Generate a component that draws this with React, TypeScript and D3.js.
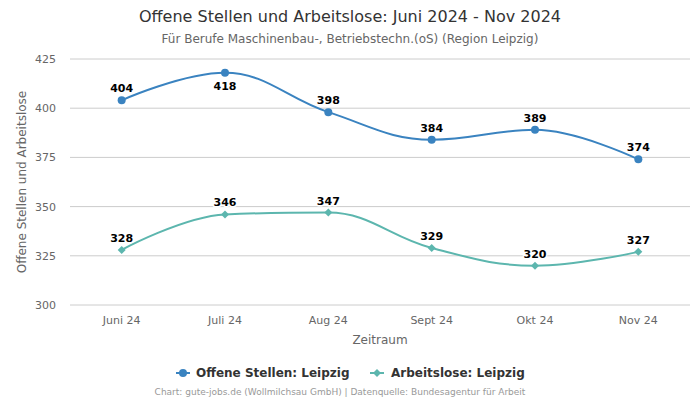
import React from "react";
import * as d3 from "d3";

const categories = ["Juni 24", "Juli 24", "Aug 24", "Sept 24", "Okt 24", "Nov 24"];
const offeneStellen = [404, 418, 398, 384, 389, 374];
const arbeitslose = [328, 346, 347, 329, 320, 327];
const yTicks = [300, 325, 350, 375, 400, 425];
// label placement: true = below point
const offeneBelow = [false, true, false, false, false, false];
const arbeitsBelow = [false, false, false, false, false, false];

const W = 700, H = 400;
const left = 70, right = 690, top = 59, bottom = 305;
const BLUE = "#3a83c0";
const TEAL = "#5cb6ae";
const FONT = "DejaVu Sans, sans-serif";

function splinePath(pts: [number, number][]) {
  const s = 1.5, den = s + 1;
  const conts = pts.map((p, i) => {
    const [x, y] = p;
    if (i === 0 || i === pts.length - 1) return { lx: x, ly: y, rx: x, ry: y };
    const [lx0, ly0] = pts[i - 1];
    const [nx, ny] = pts[i + 1];
    const lcx = (s * x + lx0) / den;
    let lcy = (s * y + ly0) / den;
    const rcx = (s * x + nx) / den;
    let rcy = (s * y + ny) / den;
    if (rcx !== lcx) {
      const corr = ((rcy - lcy) * (rcx - x)) / (rcx - lcx) + y - rcy;
      lcy += corr;
      rcy += corr;
    }
    if (lcy > ly0 && lcy > y) { lcy = Math.max(ly0, y); rcy = 2 * y - lcy; }
    else if (lcy < ly0 && lcy < y) { lcy = Math.min(ly0, y); rcy = 2 * y - lcy; }
    if (rcy > ny && rcy > y) { rcy = Math.max(ny, y); lcy = 2 * y - rcy; }
    else if (rcy < ny && rcy < y) { rcy = Math.min(ny, y); lcy = 2 * y - rcy; }
    return { lx: lcx, ly: lcy, rx: rcx, ry: rcy };
  });
  let d = `M${pts[0][0]},${pts[0][1]}`;
  for (let i = 1; i < pts.length; i++) {
    const a = conts[i - 1], b = conts[i];
    d += `C${a.rx},${a.ry} ${b.lx},${b.ly} ${pts[i][0]},${pts[i][1]}`;
  }
  return d;
}

export default function App() {
  const x = d3.scaleBand<string>().domain(categories).range([left, right]);
  const y = d3.scaleLinear().domain([300, 425]).range([bottom, top]);
  const cx = (c: string) => (x(c) as number) + x.bandwidth() / 2;

  const series = [
    { name: "Offene Stellen: Leipzig", data: offeneStellen, color: BLUE, marker: "circle", below: offeneBelow },
    { name: "Arbeitslose: Leipzig", data: arbeitslose, color: TEAL, marker: "diamond", below: arbeitsBelow },
  ];

  const marker = (type: string, px: number, py: number, color: string, key: any) =>
    type === "circle" ? (
      <circle key={key} cx={px} cy={py} r={4} fill={color} />
    ) : (
      <path key={key} d={`M${px},${py - 4}L${px + 4},${py}L${px},${py + 4}L${px - 4},${py}Z`} fill={color} />
    );

  return (
    <svg width={W} height={H} style={{ position: "absolute", left: 0, top: 0, fontFamily: FONT }}>
      <rect width={W} height={H} fill="#fff" />
      <text x={350} y={22} textAnchor="middle" fontSize={16} fill="#333">
        Offene Stellen und Arbeitslose: Juni 2024 - Nov 2024
      </text>
      <text x={350} y={43} textAnchor="middle" fontSize={12} fill="#666">
        Für Berufe Maschinenbau-, Betriebstechn.(oS) (Region Leipzig)
      </text>
      {yTicks.map((t) => (
        <g key={t}>
          <line x1={left} x2={right} y1={y(t)} y2={y(t)} stroke="#ccc" strokeWidth={1} />
          <text x={56} y={y(t) + 4} textAnchor="end" fontSize={11} fill="#666">{t}</text>
        </g>
      ))}
      {categories.map((c) => (
        <text key={c} x={cx(c)} y={324} textAnchor="middle" fontSize={11} fill="#666">{c}</text>
      ))}
      <text transform={`translate(26,${(top + bottom) / 2}) rotate(-90)`} textAnchor="middle" fontSize={12} fill="#666">
        Offene Stellen und Arbeitslose
      </text>
      <text x={(left + right) / 2} y={344} textAnchor="middle" fontSize={12} fill="#666">Zeitraum</text>
      {series.map((s) => {
        const pts: [number, number][] = s.data.map((v, i) => [cx(categories[i]), y(v)]);
        return (
          <g key={s.name}>
            <path d={splinePath(pts)} fill="none" stroke={s.color} strokeWidth={2} />
            {pts.map((p, i) => marker(s.marker, p[0], p[1], s.color, i))}
            {pts.map((p, i) => (
              <text key={"l" + i} x={p[0]} y={s.below[i] ? p[1] + 17 : p[1] - 8} textAnchor="middle"
                fontSize={11} fontWeight="bold" fill="#000" stroke="#fff" strokeWidth={3}
                paintOrder="stroke" strokeLinejoin="round">
                {s.data[i]}
              </text>
            ))}
          </g>
        );
      })}
      <g>
        <line x1={176} x2={190} y1={373} y2={373} stroke={BLUE} strokeWidth={2} />
        <circle cx={183} cy={373} r={4} fill={BLUE} />
        <text x={196} y={377} fontSize={12} fontWeight="bold" fill="#333">Offene Stellen: Leipzig</text>
        <line x1={370} x2={384} y1={373} y2={373} stroke={TEAL} strokeWidth={2} />
        <path d="M377,369L381,373L377,377L373,373Z" fill={TEAL} />
        <text x={391} y={377} fontSize={12} fontWeight="bold" fill="#333">Arbeitslose: Leipzig</text>
      </g>
      <text x={340} y={395} textAnchor="middle" fontSize={9} fill="#999">
        Chart: gute-jobs.de (Wollmilchsau GmbH) | Datenquelle: Bundesagentur für Arbeit
      </text>
    </svg>
  );
}
